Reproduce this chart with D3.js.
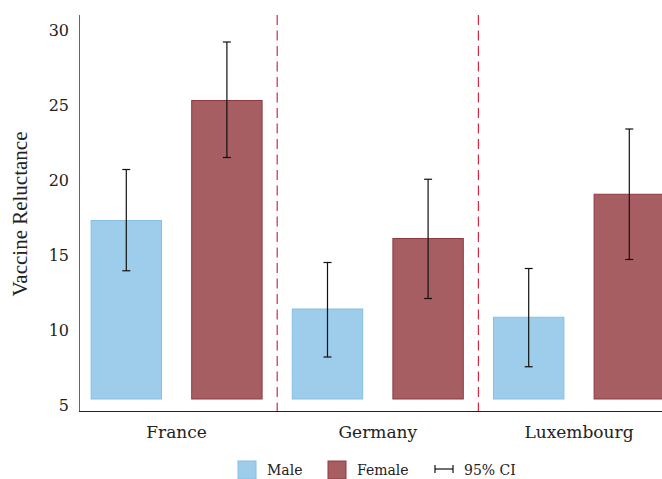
<!DOCTYPE html>
<html>
<head>
<meta charset="utf-8">
<script src="https://cdn.jsdelivr.net/npm/d3@7"></script>
<style>
  body { margin: 0; background: #fff; }
  text { font-family: "DejaVu Serif", serif; fill: #222; }
</style>
</head>
<body>
<svg id="chart" width="662" height="479"></svg>
<script>
// data
const countries = ["France", "Germany", "Luxembourg"];
const groups = ["Male", "Female"];
const maleMean = [17.3, 11.4, 10.85];
const maleLow = [13.95, 8.2, 7.55];
const maleHigh = [20.7, 14.5, 14.1];
const femaleMean = [25.3, 16.1, 19.05];
const femaleLow = [21.5, 12.1, 14.7];
const femaleHigh = [29.2, 20.05, 23.4];
const yTicks = [5, 10, 15, 20, 25, 30];
const barBase = 5.4;

const colors = { Male: "#9dcdeb", Female: "#a65e62" };
const strokes = { Male: "#86bfe6", Female: "#8e3a42" };

const svg = d3.select("#chart");

// one slot per bar, grouped by country
const rows = [];
countries.forEach((c, i) => {
  rows.push({ country: c, group: "Male", mean: maleMean[i], lo: maleLow[i], hi: maleHigh[i] });
  rows.push({ country: c, group: "Female", mean: femaleMean[i], lo: femaleLow[i], hi: femaleHigh[i] });
});

const x = d3.scaleBand()
  .domain(rows.map(d => d.country + "|" + d.group))
  .range([76, 679.6])
  .paddingInner(0.3)
  .paddingOuter(0.15);

const xc = d3.scaleBand()
  .domain(countries)
  .range([76, 679.6]);

const y = d3.scaleLinear()
  .domain([5, 30])
  .range([405, 30]);

const plot = svg.append("g");

// bars
plot.selectAll("rect.bar")
  .data(rows)
  .enter().append("rect")
  .attr("class", "bar")
  .attr("x", d => x(d.country + "|" + d.group))
  .attr("width", x.bandwidth())
  .attr("y", d => y(d.mean))
  .attr("height", d => y(barBase) - y(d.mean))
  .attr("fill", d => colors[d.group])
  .attr("stroke", d => strokes[d.group])
  .attr("stroke-width", 1);

// group dividers
plot.selectAll("line.div")
  .data(countries.slice(1))
  .enter().append("line")
  .attr("x1", d => xc(d)).attr("x2", d => xc(d))
  .attr("y1", 15).attr("y2", 411)
  .attr("stroke", "#d6283f")
  .attr("stroke-width", 1.2)
  .attr("stroke-dasharray", "10,5.5");

// error bars
const eb = plot.selectAll("g.err")
  .data(rows)
  .enter().append("g")
  .attr("class", "err")
  .attr("transform", d => `translate(${x(d.country + "|" + d.group) + x.bandwidth() / 2},0)`);
eb.append("line")
  .attr("y1", d => y(d.lo)).attr("y2", d => y(d.hi))
  .attr("stroke", "#111").attr("stroke-width", 1.2);
eb.append("line")
  .attr("x1", -4).attr("x2", 4)
  .attr("y1", d => y(d.hi)).attr("y2", d => y(d.hi))
  .attr("stroke", "#111").attr("stroke-width", 1.2);
eb.append("line")
  .attr("x1", -4).attr("x2", 4)
  .attr("y1", d => y(d.lo)).attr("y2", d => y(d.lo))
  .attr("stroke", "#111").attr("stroke-width", 1.2);

// axes lines
svg.append("line")
  .attr("x1", 79.5).attr("x2", 79.5)
  .attr("y1", 15).attr("y2", 411.5)
  .attr("stroke", "#666").attr("stroke-width", 1);
svg.append("line")
  .attr("x1", 79).attr("x2", 662)
  .attr("y1", 411.5).attr("y2", 411.5)
  .attr("stroke", "#222").attr("stroke-width", 1);

// y tick labels
svg.selectAll("text.ytick")
  .data(yTicks)
  .enter().append("text")
  .attr("class", "ytick")
  .attr("x", 69)
  .attr("y", d => y(d))
  .attr("dy", "0.35em")
  .attr("text-anchor", "end")
  .style("font-size", "16px")
  .text(d => d);

// y axis title
svg.append("text")
  .attr("transform", "translate(27,214) rotate(-90)")
  .attr("text-anchor", "middle")
  .style("font-family", "'Liberation Serif', serif")
  .style("font-size", "21px")
  .text("Vaccine Reluctance");

// category labels
svg.selectAll("text.cat")
  .data(countries)
  .enter().append("text")
  .attr("class", "cat")
  .attr("x", d => xc(d) + xc.bandwidth() / 2)
  .attr("y", 432)
  .attr("dy", "0.35em")
  .attr("text-anchor", "middle")
  .style("font-size", "17px")
  .text(d => d);

// legend
const legend = svg.append("g");
const legX = [238, 328];
groups.forEach((g, i) => {
  legend.append("rect")
    .attr("x", legX[i]).attr("y", 461)
    .attr("width", 18).attr("height", 18)
    .attr("fill", colors[g])
    .attr("stroke", strokes[g]);
  legend.append("text")
    .attr("x", legX[i] + 29).attr("y", 470)
    .attr("dy", "0.35em")
    .style("font-size", "14px")
    .text(g);
});
legend.append("line")
  .attr("x1", 435).attr("x2", 453).attr("y1", 469).attr("y2", 469)
  .attr("stroke", "#111").attr("stroke-width", 1.2);
legend.append("line")
  .attr("x1", 435).attr("x2", 435).attr("y1", 465).attr("y2", 473)
  .attr("stroke", "#111").attr("stroke-width", 1.2);
legend.append("line")
  .attr("x1", 453).attr("x2", 453).attr("y1", 465).attr("y2", 473)
  .attr("stroke", "#111").attr("stroke-width", 1.2);
legend.append("text")
  .attr("x", 464).attr("y", 470)
  .attr("dy", "0.35em")
  .style("font-size", "14px")
  .text("95% CI");
</script>
</body>
</html>
